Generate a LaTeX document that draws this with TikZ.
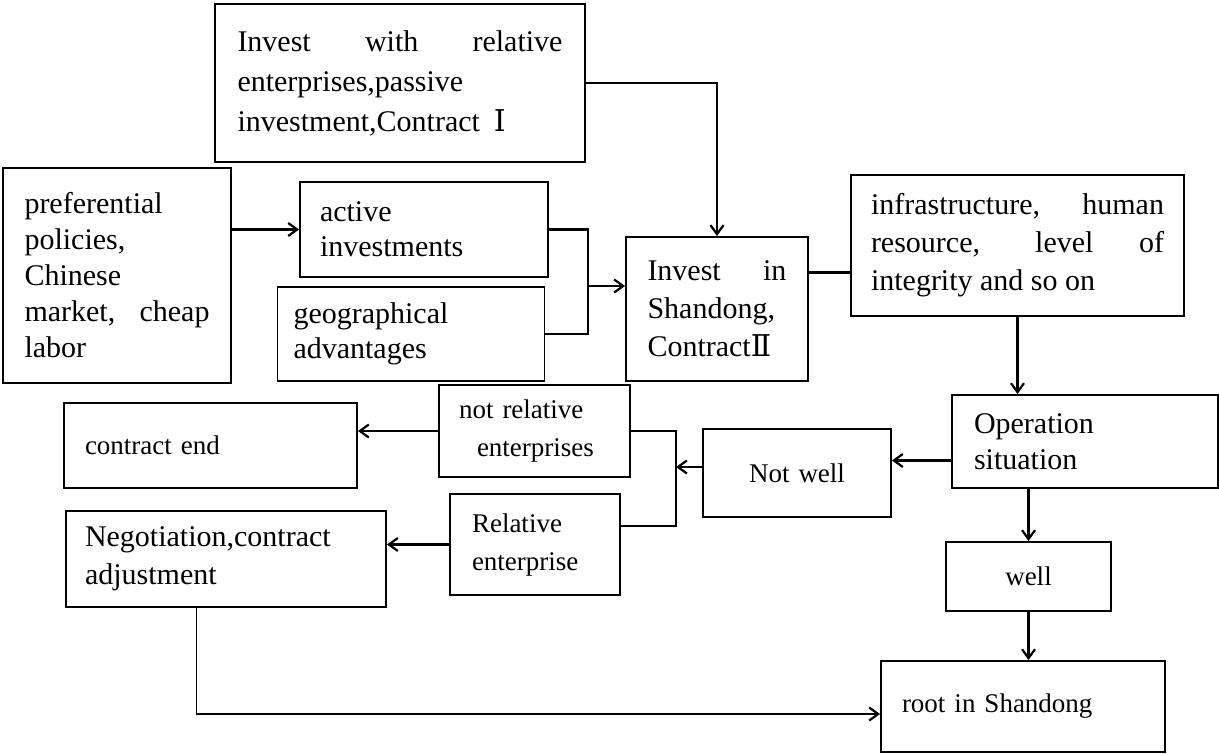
\documentclass[tikz,border=0pt]{standalone}
\usepackage{fontspec}
\setmainfont{Liberation Serif}
\newfontfamily\numfont{DejaVu Serif}
\usetikzlibrary{arrows.meta,calc}

\begin{document}
\begin{tikzpicture}[x=1pt,y=-1pt,
    box/.style={draw,line width=1.9pt,inner xsep=0pt,inner ysep=0pt,align=justify,font=\fontsize{30}{38}\selectfont},
    sbox/.style={box,align=left,font=\fontsize{27}{38}\selectfont},
    arr/.style={line width=2.2pt,-{Straight Barb[length=9pt,width=13pt]}},
    link/.style={line width=2.2pt}]
    \useasboundingbox (0,0) rectangle (1219,753);

    % boxes
    \node[box,minimum width=370pt,minimum height=158pt,text width=325pt,font=\fontsize{30}{40}\selectfont] (A) at (400,83)
        {Invest with relative\linebreak enterprises,passive\\ investment,Contract\hspace{14pt}{\numfont Ⅰ}};
    \node[box,minimum width=228pt,minimum height=215pt,text width=185pt,font=\fontsize{30}{36}\selectfont] (B) at (117,275.5)
        {preferential\\ policies,\\ Chinese\\ market, cheap\linebreak labor};
    \node[box,minimum width=248pt,minimum height=95pt,text width=208pt,font=\fontsize{30}{35}\selectfont] (C) at (424,229.5)
        {active\\ investments};
    \node[box,minimum width=267pt,minimum height=94pt,text width=235pt,font=\fontsize{30}{35}\selectfont] (D) at (411,334)
        {geographical\\ advantages};
    \node[box,minimum width=182pt,minimum height=144pt,text width=139pt] (E) at (717,309)
        {Invest in\linebreak Shandong,\\ Contract{\numfont Ⅱ}};
    \node[box,minimum width=333pt,minimum height=141pt,text width=293pt] (F) at (1017.5,245.5)
        {infrastructure, human\linebreak resource, level of\linebreak integrity and so on};
    \node[box,align=left,minimum width=266pt,minimum height=93pt,text width=222pt,font=\fontsize{30}{36}\selectfont] (G) at (1085,441.5)
        {Operation\\ situation};
    \node[sbox,align=center,minimum width=188pt,minimum height=88pt,text width=150pt] (H) at (797,473)
        {Not well};
    \node[sbox,minimum width=191pt,minimum height=92pt,text width=151pt] (I) at (534.5,431)
        {not relative\\ \hspace*{18pt}enterprises};
    \node[sbox,minimum width=293pt,minimum height=85pt,text width=251pt] (J) at (210.5,445.5)
        {contract end};
    \node[sbox,minimum width=170pt,minimum height=101pt,text width=126pt] (K) at (535,544.5)
        {Relative\\ enterprise};
    \node[box,align=left,minimum width=320pt,minimum height=96pt,text width=282pt] (L) at (226,559)
        {Negotiation,contract\\ adjustment};
    \node[sbox,align=center,minimum width=165pt,minimum height=69pt,text width=120pt] (well) at (1028.5,576.5)
        {well};
    \node[sbox,minimum width=284pt,minimum height=91pt,text width=242pt] (root) at (1023,706.5)
        {root in Shandong};

    % joints
    \coordinate (jn1) at (588,286);
    \coordinate (jn2) at (676,467);
    \coordinate (ef) at ($(E.north east)!.25!(E.south east)$);
    \coordinate (gh) at ($(G.north west)!.7!(G.south west)$);
    \coordinate (kj) at ($(K.north east)!.32!(K.south east)$);
    \coordinate (lr) at (196,714);

    % connectors
    \draw[arr] (B.east |- C.west) -- (C.west);
    \draw[arr] (A.east) -| (E.north);
    \draw[link] (C.east) -- (C.east -| jn1) -- (D.east -| jn1) -- (D.east);
    \draw[arr] (jn1) -- (jn1 -| E.west);
    \draw[link] (ef) -- (ef -| F.west);
    \draw[arr] (F.south) -- (F.south |- G.north);
    \draw[arr] (gh) -- (gh -| H.east);
    \draw[arr] (H.west |- jn2) -- (jn2);
    \draw[link] (I.east) -- (I.east -| jn2) -- (kj -| jn2) -- (kj);
    \draw[arr] (I.west) -- (I.west -| J.east);
    \draw[arr] (K.west) -- (K.west -| L.east);
    \draw[arr] (well.north |- G.south) -- (well.north);
    \draw[arr] (well.south) -- (well.south |- root.north);
    \draw[line width=1pt] (L.south -| lr) -- (lr);
    \draw[arr] (lr) -- (lr -| root.west);
\end{tikzpicture}
\end{document}
